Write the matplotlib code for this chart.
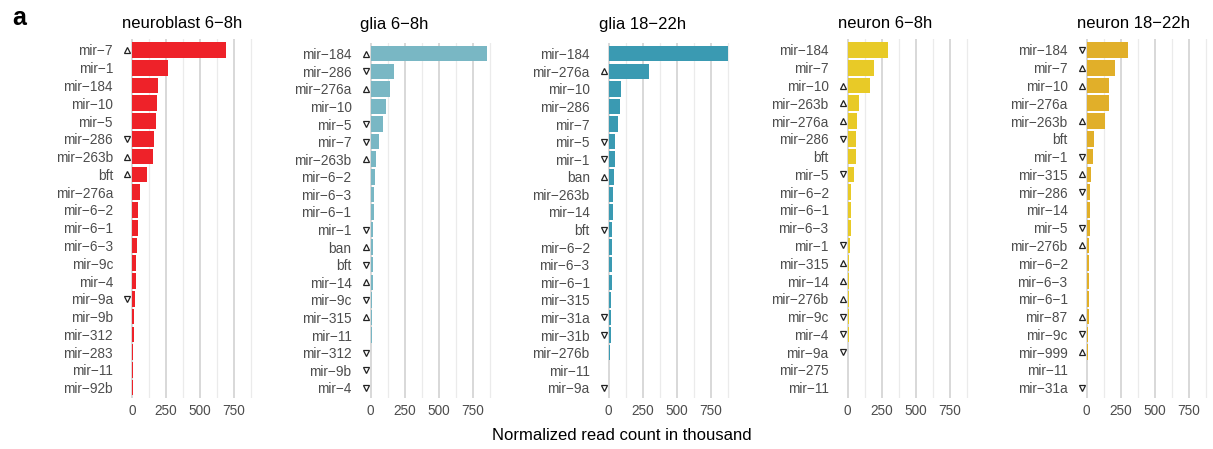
import numpy as np
import matplotlib
matplotlib.use("Agg")
import matplotlib.pyplot as plt

plt.rcParams['font.family'] = ['Liberation Sans', 'DejaVu Sans']

M = "\u2212"

# panel titles and colours
titles = ["neuroblast 6-8h", "glia 6-8h", "glia 18-22h", "neuron 6-8h", "neuron 18-22h"]
colors = ["#EE2229", "#79B7C4", "#3A9AB2", "#E8CA27", "#E1AF29"]

# miRNA names per panel (top to bottom)
nb_names = ["mir-7", "mir-1", "mir-184", "mir-10", "mir-5", "mir-286", "mir-263b", "bft", "mir-276a", "mir-6-2",
            "mir-6-1", "mir-6-3", "mir-9c", "mir-4", "mir-9a", "mir-9b", "mir-312", "mir-283", "mir-11", "mir-92b"]
nb_vals = [691, 262, 189, 181, 174, 162, 152, 108, 57, 42, 42, 40, 27, 27, 20, 12, 12, 5, 5, 4]
nb_arrow = ["up", "", "", "", "", "down", "up", "up", "", "", "", "", "", "", "down", "", "", "", "", ""]

g1_names = ["mir-184", "mir-286", "mir-276a", "mir-10", "mir-5", "mir-7", "mir-263b", "mir-6-2", "mir-6-3", "mir-6-1",
            "mir-1", "ban", "bft", "mir-14", "mir-9c", "mir-315", "mir-11", "mir-312", "mir-9b", "mir-4"]
g1_vals = [860, 174, 145, 115, 93, 64, 42, 34, 27, 27, 20, 20, 18, 18, 12, 10, 8, 7, 6, 5]
g1_arrow = ["up", "down", "up", "", "down", "down", "up", "", "", "", "down", "up", "down", "up", "down", "up", "",
            "down", "down", "down"]

g2_names = ["mir-184", "mir-276a", "mir-10", "mir-286", "mir-7", "mir-5", "mir-1", "ban", "mir-263b", "mir-14",
            "bft", "mir-6-2", "mir-6-3", "mir-6-1", "mir-315", "mir-31a", "mir-31b", "mir-276b", "mir-11", "mir-9a"]
g2_vals = [877, 294, 88, 81, 66, 44, 44, 37, 29, 29, 22, 22, 22, 22, 15, 14, 14, 10, 5, 4]
g2_arrow = ["", "up", "", "", "", "down", "down", "up", "", "", "down", "", "", "", "", "down", "down", "", "", "down"]

n1_names = ["mir-184", "mir-7", "mir-10", "mir-263b", "mir-276a", "mir-286", "bft", "mir-5", "mir-6-2", "mir-6-1",
            "mir-6-3", "mir-1", "mir-315", "mir-14", "mir-276b", "mir-9c", "mir-4", "mir-9a", "mir-275", "mir-11"]
n1_vals = [294, 191, 162, 81, 66, 59, 59, 44, 22, 22, 22, 20, 12, 12, 8, 7, 7, 5, 4, 3]
n1_arrow = ["", "", "up", "up", "up", "down", "", "down", "", "", "", "down", "up", "up", "up", "down", "down", "down",
            "", ""]

n2_names = ["mir-184", "mir-7", "mir-10", "mir-276a", "mir-263b", "bft", "mir-1", "mir-315", "mir-286", "mir-14",
            "mir-5", "mir-276b", "mir-6-2", "mir-6-3", "mir-6-1", "mir-87", "mir-9c", "mir-999", "mir-11", "mir-31a"]
n2_vals = [301, 206, 162, 162, 132, 51, 44, 29, 22, 22, 22, 20, 15, 15, 15, 14, 7, 7, 5, 4]
n2_arrow = ["down", "up", "up", "", "up", "", "down", "up", "down", "", "down", "up", "", "", "", "up", "down", "up",
            "", "down"]

panels = [(nb_names, nb_vals, nb_arrow), (g1_names, g1_vals, g1_arrow), (g2_names, g2_vals, g2_arrow),
          (n1_names, n1_vals, n1_arrow), (n2_names, n2_vals, n2_arrow)]

W, H = 1213, 449
fig = plt.figure(figsize=(W / 100, H / 100), dpi=100)

x0_px = [132, 370.5, 608.7, 847.7, 1086.7]
top_px = [39.3, 43.2, 43.2, 39.3, 39.3]
bot_px = 398.3
xmin, xmax = -44, 919
scale = 0.136  # px per unit

for i, (names, vals, arrows) in enumerate(panels):
    left = x0_px[i] + xmin * scale
    width = (xmax - xmin) * scale
    ax = fig.add_axes([left / W, 1 - bot_px / H, width / W, (bot_px - top_px[i]) / H])
    n = len(names)
    y = np.arange(n)
    for xv in [125, 375, 625, 875]:
        ax.axvline(xv, color="#EBEBEB", lw=0.9, zorder=0)
    for xv in [0, 250, 500, 750]:
        ax.axvline(xv, color="#D2D2D2", lw=1.2, zorder=0)
    ax.barh(y, vals, height=0.88, color=colors[i], zorder=2)
    for j, a in enumerate(arrows):
        if a == "up":
            ax.plot(-36, j, marker="^", ms=4.5, mfc="none", mec="#222222", mew=0.9, clip_on=False, zorder=3)
        elif a == "down":
            ax.plot(-36, j, marker="v", ms=4.5, mfc="none", mec="#222222", mew=0.9, clip_on=False, zorder=3)
    ax.set_xlim(xmin, xmax)
    ax.set_ylim(n - 0.4, -0.6)
    ax.set_yticks(y)
    ax.set_yticklabels([s.replace("-", M) for s in names], fontsize=9.8, color="#4D4D4D")
    ax.set_xticks([0, 250, 500, 750])
    ax.set_xticklabels(["0", "250", "500", "750"], fontsize=9.8, color="#4D4D4D")
    ax.tick_params(axis="y", length=0, pad=9.4)
    ax.tick_params(axis="x", length=0, pad=4)
    for s in ax.spines.values():
        s.set_visible(False)
    fig.text((x0_px[i] - 10) / W, 1 - 28.5 / H, titles[i].replace("-", M), fontsize=12, ha="left",
             va="baseline", color="black")

fig.text(621.5 / W, 1 - 439.5 / H, "Normalized read count in thousand", fontsize=12, ha="center", va="baseline")
fig.text(12 / W, 1 - 25 / H, "a", fontsize=18, fontweight="bold", ha="left", va="baseline")

fig.savefig("out.png", dpi=100)
